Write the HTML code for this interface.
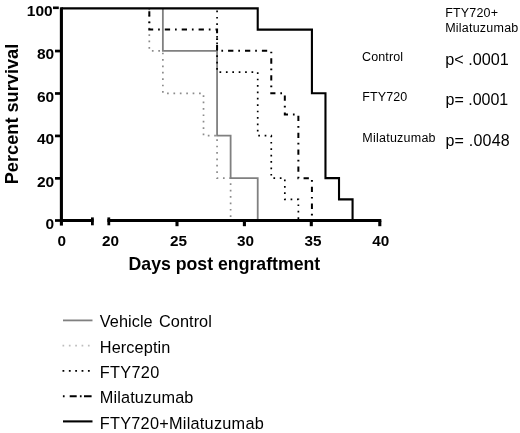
<!DOCTYPE html>
<html><head><meta charset="utf-8"><title>Survival</title>
<style>
html,body{margin:0;padding:0;background:#fff;}
svg{display:block}
text{font-family:"Liberation Sans",Arial,sans-serif;fill:#000}
.b14{font-size:15.3px;font-weight:bold}
.b16{font-size:17.7px;font-weight:bold}
.r12{font-size:12.5px}
.r16{font-size:16.2px}
.lg{font-size:16.3px}
</style></head><body>
<svg width="520" height="433" viewBox="0 0 520 433">
<rect width="520" height="433" fill="#fff"/>
<!-- curves -->
<path d="M149.32,8.4 L149.32,50.84 L162.87,50.84 L162.87,93.28 L203.52,93.28 L203.52,135.72 L217.07,135.72 L217.07,178.16 L230.62,178.16 L230.62,220.6" fill="none" stroke="#8c8c8c" stroke-width="1.7" stroke-dasharray="1.7 4.7" stroke-dashoffset="-0.2"/>
<path d="M162.87,8.4 L162.87,50.84 L217.07,50.84 L217.07,135.72 L230.62,135.72 L230.62,178.16 L257.72,178.16 L257.72,220.6" fill="none" stroke="#808080" stroke-width="1.8"/>
<path d="M217.07,8.4 L217.07,72.06 L257.72,72.06 L257.72,135.72 L271.27,135.72 L271.27,178.16 L284.82,178.16 L284.82,199.38 L298.37,199.38 L298.37,220.6" fill="none" stroke="#000" stroke-width="1.7" stroke-dasharray="1.7 4.7" stroke-dashoffset="4.3"/>
<path d="M149.32,8.4 L149.32,29.62 L217.07,29.62 L217.07,50.84 L271.27,50.84 L271.27,93.28 L284.82,93.28 L284.82,114.5 L298.37,114.5 L298.37,178.16 L311.92,178.16 L311.92,220.6" fill="none" stroke="#000" stroke-width="2" stroke-dasharray="5.3 4.9 1.7 5" stroke-dashoffset="14"/>
<path d="M61.4,8.4 L257.72,8.4 L257.72,29.62 L311.92,29.62 L311.92,93.28 L325.47,93.28 L325.47,178.16 L339.02,178.16 L339.02,199.38 L352.57,199.38 L352.57,220.6" fill="none" stroke="#000" stroke-width="2.1" stroke-linejoin="miter"/>
<!-- axes -->
<line x1="61.4" x2="61.4" y1="7.3" y2="225.6" stroke="#000" stroke-width="3.1"/>
<line x1="59.9" x2="93.6" y1="220.5" y2="220.5" stroke="#000" stroke-width="3.1"/>
<line x1="92.4" x2="92.4" y1="217.4" y2="225.3" stroke="#000" stroke-width="2.8"/>
<line x1="107.4" x2="381.3" y1="220.5" y2="220.5" stroke="#000" stroke-width="3.1"/>
<line x1="108.8" x2="108.8" y1="217.4" y2="225.3" stroke="#000" stroke-width="2.8"/>
<line x1="379.8" x2="379.8" y1="220.5" y2="226.2" stroke="#000" stroke-width="3.1"/>
<line x1="55" x2="61.4" y1="220.5" y2="220.5" stroke="#000" stroke-width="2.7"/>
<line x1="53" x2="58.8" y1="7.8" y2="7.8" stroke="#000" stroke-width="2.6"/><line x1="55" x2="61.4" y1="51.04" y2="51.04" stroke="#000" stroke-width="2.7"/><line x1="55" x2="61.4" y1="93.48" y2="93.48" stroke="#000" stroke-width="2.7"/><line x1="55" x2="61.4" y1="135.92" y2="135.92" stroke="#000" stroke-width="2.7"/><line x1="55" x2="61.4" y1="178.36" y2="178.36" stroke="#000" stroke-width="2.7"/><line x1="177" x2="177" y1="220.5" y2="226.2" stroke="#000" stroke-width="3.1"/><line x1="244.4" x2="244.4" y1="220.5" y2="226.2" stroke="#000" stroke-width="3.1"/><line x1="311.3" x2="311.3" y1="220.5" y2="226.2" stroke="#000" stroke-width="3.1"/>
<text x="52.7" y="16.4" text-anchor="end" class="b14" style="font-size:15.5px">100</text><text x="54.2" y="59.24" text-anchor="end" class="b14" style="font-size:15.5px">80</text><text x="54.2" y="101.68" text-anchor="end" class="b14" style="font-size:15.5px">60</text><text x="54.2" y="144.12" text-anchor="end" class="b14" style="font-size:15.5px">40</text><text x="54.2" y="186.56" text-anchor="end" class="b14" style="font-size:15.5px">20</text><text x="54.2" y="229.0" text-anchor="end" class="b14" style="font-size:15.5px">0</text>
<text x="61.8" y="246" text-anchor="middle" class="b14">0</text>
<text x="110.6" y="246" text-anchor="middle" class="b14">20</text><text x="178.5" y="246" text-anchor="middle" class="b14">25</text><text x="245.5" y="246" text-anchor="middle" class="b14">30</text><text x="313" y="246" text-anchor="middle" class="b14">35</text><text x="380.8" y="246" text-anchor="middle" class="b14">40</text>
<text transform="translate(18,114) rotate(-90)" text-anchor="middle" class="b16" style="font-size:18.2px">Percent survival</text>
<text x="224.4" y="270.4" text-anchor="middle" class="b16">Days post engraftment</text>
<!-- p values -->
<text x="445.2" y="17.2" class="r12" style="letter-spacing:0.17px">FTY720+</text>
<text x="445.2" y="32.3" class="r12" style="letter-spacing:0.22px">Milatuzumab</text>
<text x="362" y="60.6" class="r12" style="letter-spacing:0.12px">Control</text>
<text x="362.3" y="101.1" class="r12" style="letter-spacing:0.1px">FTY720</text>
<text x="362.3" y="142" class="r12" style="letter-spacing:0.24px">Milatuzumab</text>
<text x="445.3" y="64.8" class="r16">p&lt; .0001</text>
<text x="445.5" y="105.3" class="r16" style="font-size:16px">p= .0001</text>
<text x="445.5" y="145.5" class="r16" style="font-size:16px;letter-spacing:0.2px">p= .0048</text>
<!-- legend -->
<line x1="63" x2="92.5" y1="320.4" y2="320.4" stroke="#808080" stroke-width="1.8"/>
<line x1="62.5" x2="92.5" y1="345.6" y2="345.6" stroke="#bdbdbd" stroke-width="1.7" stroke-dasharray="1.7 4.66"/>
<line x1="62.5" x2="92.5" y1="370.9" y2="370.9" stroke="#000" stroke-width="1.8" stroke-dasharray="1.8 4.56"/>
<path d="M62.9,396.2 H64.6 M69.7,396.2 H76.7 M79.9,396.2 H81.6 M84,396.2 H91.6" stroke="#000" stroke-width="2" fill="none"/>
<line x1="63" x2="92.5" y1="421.4" y2="421.4" stroke="#000" stroke-width="2.1"/>
<text x="99.8" y="327.4" class="lg" style="word-spacing:1.7px;letter-spacing:0.06px">Vehicle Control</text>
<text x="99.8" y="352.7" class="lg" style="letter-spacing:0.1px">Herceptin</text>
<text x="99.8" y="378.2" class="lg" style="letter-spacing:0.3px">FTY720</text>
<text x="99.8" y="403.4" class="lg" style="letter-spacing:0.13px">Milatuzumab</text>
<text x="99.8" y="428.8" class="lg" style="letter-spacing:0.25px">FTY720+Milatuzumab</text>
</svg>
</body></html>
